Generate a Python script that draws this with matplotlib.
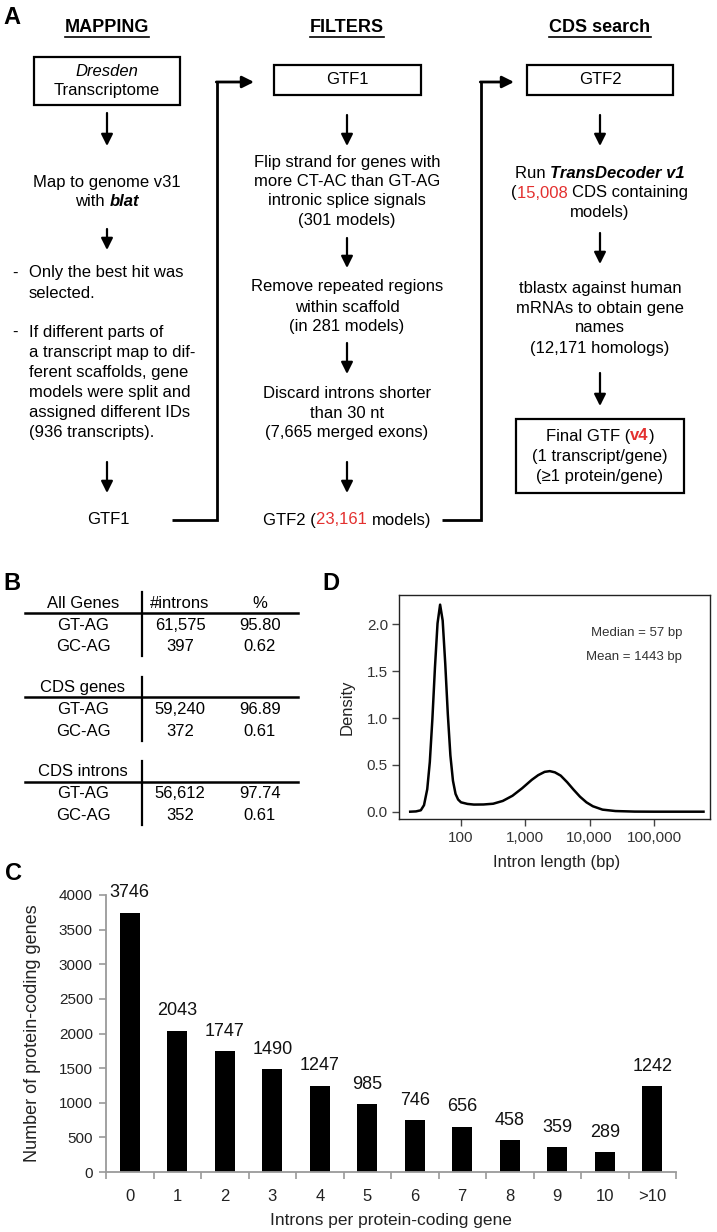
import matplotlib
matplotlib.use('Agg')
import matplotlib.pyplot as plt
from matplotlib.patches import Rectangle
from matplotlib.ticker import FixedLocator, NullLocator, FixedFormatter
import numpy as np

plt.rcParams['font.family'] = ['Liberation Sans', 'DejaVu Sans']

# ---------------- data ----------------
# Panel B: splice-site table
table_groups = ['All Genes', 'CDS genes', 'CDS introns']
table_header = ['#introns', '%']
splice_types = ['GT-AG', 'GC-AG']
intron_counts = [['61,575', '397'], ['59,240', '372'], ['56,612', '352']]
intron_pcts = [['95.80', '0.62'], ['96.89', '0.61'], ['97.74', '0.61']]

# Panel C: introns per protein-coding gene
intron_categories = ['0', '1', '2', '3', '4', '5', '6', '7', '8', '9', '10', '>10']
gene_counts = [3746, 2043, 1747, 1490, 1247, 985, 746, 656, 458, 359, 289, 1242]

# Panel D: intron length density (log10 of length in bp, density)
intron_len_log10 = [1.21, 1.30, 1.375, 1.425, 1.475, 1.515, 1.555, 1.595, 1.635,
                    1.675, 1.715, 1.755, 1.795, 1.835, 1.875, 1.915, 1.955, 2.00,
                    2.10, 2.20, 2.35, 2.50, 2.65, 2.80, 2.95, 3.10, 3.20, 3.30,
                    3.38, 3.46, 3.55, 3.65, 3.75, 3.85, 3.95, 4.05, 4.20, 4.40,
                    4.70, 5.00, 5.77]
density_values = [0.0, 0.003, 0.015, 0.07, 0.24, 0.53, 0.99, 1.54, 2.01,
                  2.21, 2.04, 1.58, 1.04, 0.60, 0.33, 0.19, 0.13, 0.10,
                  0.083, 0.076, 0.077, 0.085, 0.115, 0.17, 0.25, 0.34, 0.39, 0.425,
                  0.433, 0.42, 0.385, 0.315, 0.235, 0.16, 0.10, 0.058, 0.022, 0.007,
                  0.001, 0.0, 0.0]
density_ticks = [100, 1000, 10000, 100000]
density_tick_labels = ['100', '1,000', '10,000', '100,000']
density_yticks = [0.0, 0.5, 1.0, 1.5, 2.0]
median_text = 'Median = 57 bp'
mean_text = 'Mean = 1443 bp'

# Panel A: pipeline text
mapping_lines1 = ['Map to genome v31']
mapping_bullets = [['Only the best hit was', 'selected.'],
                   ['If different parts of', 'a transcript map to dif-',
                    'ferent scaffolds, gene', 'models were split and',
                    'assigned different IDs', '(936 transcripts).']]
filter_steps = [['Flip strand for genes with', 'more CT-AC than GT-AG',
                 'intronic splice signals', '(301 models)'],
                ['Remove repeated regions', 'within scaffold', '(in 281 models)'],
                ['Discard introns shorter', 'than 30 nt', '(7,665 merged exons)']]
tblastx_lines = ['tblastx against human', 'mRNAs to obtain gene', 'names',
                 '(12,171 homologs)']
final_lines = ['(1 transcript/gene)', '(\u22651 protein/gene)']
RED = '#e3302f'

# ---------------- figure ----------------
W, H, DPI = 717, 1232, 100
fig = plt.figure(figsize=(W / DPI, H / DPI), dpi=DPI)
fig.patch.set_facecolor('white')
ov = fig.add_axes([0, 0, 1, 1])
ov.set_xlim(0, W)
ov.set_ylim(H, 0)
ov.axis('off')
R = fig.canvas.get_renderer()


def fr(x0, y0, x1, y1):
    return [x0 / W, 1 - y1 / H, (x1 - x0) / W, (y1 - y0) / H]


def tw(s, fs, kw):
    t1 = ov.text(0, 0, '|' + s + '|', fontsize=fs, **kw)
    t2 = ov.text(0, 0, '||', fontsize=fs, **kw)
    w = t1.get_window_extent(R).width - t2.get_window_extent(R).width
    t1.remove()
    t2.remove()
    return w


def rich(x, y, segs, fs=12):
    widths = [tw(s, fs, kw) for s, kw in segs]
    x0 = x - sum(widths) / 2
    for (s, kw), w in zip(segs, widths):
        ov.text(x0, y, s, fontsize=fs, ha='left', va='center', **kw)
        x0 += w


def ctext(x, y, s, fs=12, **kw):
    ov.text(x, y, s, fontsize=fs, ha='center', va='center', **kw)


def varrow(x, y0, y1):
    ov.annotate('', xy=(x, y1), xytext=(x, y0),
                arrowprops=dict(arrowstyle='-|>,head_length=0.7,head_width=0.35',
                                color='black', lw=1.6, shrinkA=0, shrinkB=0,
                                mutation_scale=10))


def harrow(x0, x1, y):
    ov.annotate('', xy=(x1, y), xytext=(x0, y),
                arrowprops=dict(arrowstyle='-|>,head_length=0.7,head_width=0.35',
                                color='black', lw=2.0, shrinkA=0, shrinkB=0,
                                mutation_scale=10))


def box(x0, y0, x1, y1):
    ov.add_patch(Rectangle((x0, y0), x1 - x0, y1 - y0, fill=False,
                           lw=1.6, edgecolor='black'))


def header(x, y, s):
    t = ov.text(x, y, s, fontsize=13, fontweight='bold', ha='center', va='center')
    w = t.get_window_extent(R).width
    ov.plot([x - w / 2, x + w / 2], [y + 9, y + 9], color='black', lw=1.2)


# panel labels
for lab, (lx, ly) in zip(['A', 'B', 'D', 'C'], [(12, 18), (12, 583), (331, 583), (13, 873)]):
    ov.text(lx, ly, lab, fontsize=17, fontweight='bold', ha='center', va='center')

# ---- MAPPING column ----
cx1 = 107
header(cx1, 28, 'MAPPING')
box(34, 57, 180, 105)
ctext(cx1, 72, 'Dresden', fontstyle='italic')
ctext(cx1, 91, 'Transcriptome')
varrow(cx1, 113, 146)
ctext(cx1, 182, mapping_lines1[0])
rich(cx1, 202, [('with ', {}), ('blat', dict(fontweight='bold', fontstyle='italic'))])
varrow(cx1, 229, 250)
ys = [[273, 293], [332, 353, 373, 393, 413, 433]]
for lines, yy in zip(mapping_bullets, ys):
    ov.text(12, yy[0], '-', fontsize=12, ha='left', va='center')
    for s, y in zip(lines, yy):
        ov.text(29, y, s, fontsize=12, ha='left', va='center')
varrow(cx1, 462, 493)
ctext(cx1 + 1, 520, 'GTF1')
ov.plot([172, 217, 217], [520, 520, 82], color='black', lw=2.0,
        solid_joinstyle='miter', solid_capstyle='butt')
harrow(216.3, 254, 82)

# ---- FILTERS column ----
cx2 = 347
header(cx2, 28, 'FILTERS')
box(274, 65, 421, 95)
ctext(cx2, 80, 'GTF1')
varrow(cx2, 115, 146)
step_ys = [[162, 182, 201, 221], [287, 307, 327], [394, 414, 433]]
arrow_spans = [(238, 268), (343, 374), (462, 493)]
for lines, yy, (a0, a1) in zip(filter_steps, step_ys, arrow_spans):
    for s, y in zip(lines, yy):
        ctext(cx2, y, s)
    varrow(cx2, a0, a1)
rich(cx2, 520, [('GTF2 (', {}), ('23,161 ', dict(color=RED)), ('models)', {})])
ov.plot([442, 481, 481], [520, 520, 82], color='black', lw=2.0,
        solid_joinstyle='miter', solid_capstyle='butt')
harrow(480.3, 514, 82)

# ---- CDS search column ----
cx3 = 600
header(cx3, 28, 'CDS search')
box(527, 65, 673, 95)
ctext(cx3, 80, 'GTF2')
varrow(cx3, 115, 146)
rich(cx3, 173, [('Run ', {}), ('TransDecoder v1', dict(fontweight='bold', fontstyle='italic'))])
rich(cx3, 193, [('(', {}), ('15,008 ', dict(color=RED)), ('CDS containing', {})])
ctext(cx3, 213, 'models)')
varrow(cx3, 233, 264)
for s, y in zip(tblastx_lines, [288, 308, 328, 348]):
    ctext(cx3, y, s)
varrow(cx3, 373, 406)
box(516, 419, 684, 493)
rich(cx3, 436, [('Final GTF (', {}), ('v4', dict(color=RED, fontweight='bold')), (')', {})])
ctext(cx3, 456, final_lines[0])
ctext(cx3, 476, final_lines[1])

# ---- Panel B table ----
col_x = [83, 180, 260]
for g, name in enumerate(table_groups):
    y0 = 603 + g * 84.5
    ctext(col_x[0], y0, name)
    if g == 0:
        ctext(col_x[1], y0, table_header[0])
        ctext(col_x[2], y0, table_header[1])
    ov.plot([25, 298], [y0 + 9.5, y0 + 9.5], color='black', lw=1.8)
    rows_y = [y0 + 22, y0 + 43.5]
    for r, y in enumerate(rows_y):
        ctext(col_x[0], y, splice_types[r])
        ctext(col_x[1], y, intron_counts[g][r])
        ctext(col_x[2], y, intron_pcts[g][r])
    ov.plot([142, 142], [y0 - 11, rows_y[1] + 9.5], color='black', lw=1.6)

# ---- Panel D density ----
axD = fig.add_axes(fr(399, 595, 710, 819))
axD.plot(10 ** np.array(intron_len_log10), density_values, color='black', lw=1.8)
axD.set_xscale('log')
axD.set_xlim(10 ** 1.036, 10 ** 5.871)
axD.set_ylim(-0.078, 2.313)
axD.xaxis.set_major_locator(FixedLocator(density_ticks))
axD.xaxis.set_major_formatter(FixedFormatter(density_tick_labels))
axD.xaxis.set_minor_locator(NullLocator())
axD.set_yticks(density_yticks)
axD.set_yticklabels(['%.1f' % v for v in density_yticks])
axD.tick_params(direction='out', length=5, width=1, color='#444',
                labelsize=11, labelcolor='#333')
axD.tick_params(axis='x', pad=3.5)
axD.tick_params(axis='y', pad=3)
for sp in axD.spines.values():
    sp.set_color('#222')
    sp.set_linewidth(1.0)
axD.set_xlabel('Intron length (bp)', fontsize=12, color='#222')
axD.set_ylabel('Density', fontsize=12, color='#222')
axD.xaxis.set_label_coords((557 - 399) / 311, -(863 - 819) / 224)
axD.xaxis.label.set_va('center')
axD.yaxis.set_label_coords((347 - 399) / 311, 0.5)
axD.yaxis.label.set_va('center')
axD.text((682 - 399) / 311, (819 - 633) / 224, median_text, transform=axD.transAxes,
         ha='right', va='center', fontsize=9.5, color='#333')
axD.text((682 - 399) / 311, (819 - 657) / 224, mean_text, transform=axD.transAxes,
         ha='right', va='center', fontsize=9.5, color='#333')

# ---- Panel C bars ----
axC = fig.add_axes(fr(106, 895, 676, 1172))
xpos = np.arange(len(intron_categories))
axC.bar(xpos, gene_counts, width=0.43, color='black')
axC.set_xlim(-0.5, 11.5)
axC.set_ylim(0, 4000)
for s in ['top', 'right']:
    axC.spines[s].set_visible(False)
for s in ['left', 'bottom']:
    axC.spines[s].set_color('#9a9a9a')
    axC.spines[s].set_linewidth(1.3)
axC.set_yticks(np.arange(0, 4001, 500))
axC.tick_params(axis='y', direction='out', length=5, width=1.2, color='#9a9a9a',
                labelsize=11, pad=4.5, labelcolor='#222')
axC.set_xticks(xpos)
axC.set_xticklabels(intron_categories)
axC.tick_params(axis='x', which='major', length=0, pad=12, labelsize=12, labelcolor='#222')
axC.set_xticks(np.arange(-0.5, 12, 1), minor=True)
axC.tick_params(axis='x', which='minor', direction='out', length=5, width=1.2, color='#9a9a9a')
for xi, v in zip(xpos, gene_counts):
    axC.annotate(str(v), (xi, v), xytext=(0, 14.2), textcoords='offset points',
                 ha='center', va='center', fontsize=13, color='#111')
axC.set_xlabel('Introns per protein-coding gene', fontsize=12.5, color='#222')
axC.set_ylabel('Number of protein-coding genes', fontsize=13, color='#222')
axC.xaxis.set_label_coords(0.5, -(1220 - 1172) / 277)
axC.xaxis.label.set_va('center')
axC.yaxis.set_label_coords((32 - 106) / 570, 0.5)
axC.yaxis.label.set_va('center')

fig.savefig('out.png', dpi=DPI, facecolor='white')
